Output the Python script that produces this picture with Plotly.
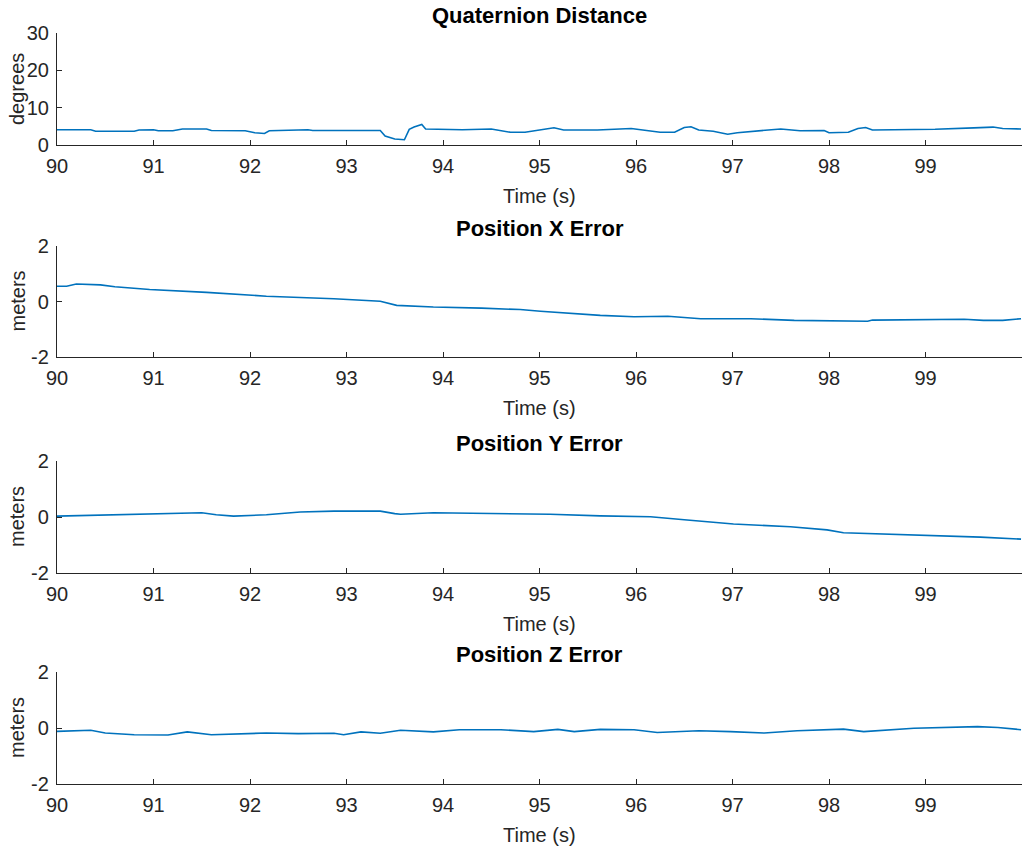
import plotly.graph_objects as go

# ---------------- data ----------------
quat_t = [90.0, 90.35, 90.4, 90.8, 90.85, 91.0, 91.05, 91.2, 91.3, 91.55, 91.6, 91.95,
          92.05, 92.15, 92.2, 92.5, 92.6, 92.65, 93.0, 93.35, 93.4, 93.5, 93.6, 93.65,
          93.7, 93.78, 93.82, 94.2, 94.5, 94.7, 94.85, 95.0, 95.15, 95.25, 95.6, 95.95,
          96.15, 96.25, 96.4, 96.5, 96.57, 96.65, 96.8, 96.95, 97.05, 97.2, 97.5, 97.7,
          97.95, 98.0, 98.2, 98.3, 98.38, 98.45, 98.7, 99.1, 99.5, 99.7, 99.8, 99.99]
quat_v = [4.1, 4.1, 3.7, 3.7, 4.0, 4.1, 3.8, 3.8, 4.3, 4.3, 3.9, 3.8,
          3.3, 3.1, 3.8, 4.1, 4.1, 3.9, 3.9, 3.9, 2.4, 1.6, 1.4, 4.2,
          4.8, 5.5, 4.3, 4.1, 4.3, 3.4, 3.4, 3.9, 4.6, 4.0, 4.0, 4.4,
          3.8, 3.4, 3.4, 4.7, 4.9, 4.0, 3.7, 2.9, 3.3, 3.7, 4.3, 3.8,
          3.9, 3.3, 3.4, 4.4, 4.7, 4.0, 4.1, 4.2, 4.6, 4.8, 4.4, 4.3]

posx_t = [90.0, 90.1, 90.2, 90.45, 90.6, 90.96, 91.55, 92.17, 92.87, 93.35, 93.52, 93.9,
          94.4, 94.8, 95.01, 95.63, 95.98, 96.33, 96.67, 97.19, 97.64, 98.05, 98.4, 98.45,
          99.02, 99.4, 99.6, 99.8, 99.99]
posx_v = [0.55, 0.55, 0.63, 0.6, 0.53, 0.43, 0.33, 0.19, 0.1, 0.01, -0.14, -0.2,
          -0.24, -0.29, -0.35, -0.5, -0.55, -0.53, -0.62, -0.62, -0.68, -0.69, -0.71, -0.67,
          -0.64, -0.64, -0.68, -0.68, -0.62]

posy_t = [90.0, 90.96, 91.5, 91.65, 91.83, 92.17, 92.52, 92.87, 93.35, 93.5, 93.56, 93.9,
          94.8, 95.11, 95.63, 96.15, 96.5, 97.01, 97.6, 97.98, 98.15, 98.74, 99.57, 99.99]
posy_v = [0.03, 0.1, 0.15, 0.08, 0.03, 0.08, 0.18, 0.21, 0.21, 0.12, 0.1, 0.15,
          0.11, 0.1, 0.04, 0.01, -0.1, -0.25, -0.35, -0.46, -0.56, -0.62, -0.72, -0.79]

posz_t = [90.0, 90.35, 90.5, 90.8, 91.15, 91.35, 91.6, 92.17, 92.5, 92.87, 92.97, 93.15,
          93.35, 93.56, 93.9, 94.17, 94.6, 94.94, 95.19, 95.36, 95.63, 95.98, 96.22, 96.65,
          96.98, 97.33, 97.67, 98.15, 98.36, 98.88, 99.54, 99.75, 99.99]
posz_v = [-0.12, -0.08, -0.18, -0.24, -0.25, -0.14, -0.24, -0.18, -0.2, -0.19, -0.24, -0.14,
          -0.19, -0.08, -0.14, -0.06, -0.06, -0.13, -0.05, -0.13, -0.05, -0.06, -0.16, -0.1,
          -0.13, -0.18, -0.1, -0.04, -0.13, -0.01, 0.05, 0.02, -0.06]

titles = ["Quaternion Distance", "Position X Error", "Position Y Error", "Position Z Error"]
ylabels = ["degrees", "meters", "meters", "meters"]
x_ticks = [90, 91, 92, 93, 94, 95, 96, 97, 98, 99]
y_ticks = [[0, 10, 20, 30], [-2, 0, 2], [-2, 0, 2], [-2, 0, 2]]
y_ticktext = [["0", "10", "20", "30"], ["-2", "0", "2"], ["-2", "0", "2"], ["-2", "0", "2"]]
y_ranges = [[0, 30], [-2, 2], [-2, 2], [-2, 2]]
x_range = [90, 100]

# ---------------- layout geometry (pixels) ----------------
W, H = 1024, 848
LEFT, RIGHT = 57, 1022
panels_px = [(33, 145), (246, 357), (461, 573), (672, 784)]  # (top, bottom)

FONT = "Liberation Sans, Arial, Helvetica, sans-serif"
TXT = "#262626"
LINE = "#0072BD"

series = [(quat_t, quat_v), (posx_t, posx_v), (posy_t, posy_v), (posz_t, posz_v)]

fig = go.Figure()
annotations = []
for i, ((t, v), (top, bot)) in enumerate(zip(series, panels_px)):
    n = "" if i == 0 else str(i + 1)
    fig.add_trace(go.Scatter(x=t, y=v, mode="lines",
                             line=dict(color=LINE, width=1.6),
                             xaxis="x" + n, yaxis="y" + n, showlegend=False,
                             hoverinfo="skip"))
    dom_y = [1 - bot / H, 1 - top / H]
    axis_common = dict(showline=True, linecolor=TXT, linewidth=1.2, ticks="inside",
                       ticklen=5, tickwidth=1.2, tickcolor=TXT, showgrid=False,
                       zeroline=False, mirror=False, automargin=False,
                       tickfont=dict(family=FONT, size=20, color=TXT))
    fig.update_layout(**{
        "xaxis" + n: dict(domain=[LEFT / W, RIGHT / W], range=x_range,
                          anchor="y" + n, tickvals=x_ticks, ticklabelstandoff=3,
                          **axis_common),
        "yaxis" + n: dict(domain=dom_y, range=y_ranges[i], anchor="x" + n,
                          tickvals=y_ticks[i], ticktext=y_ticktext[i],
                          ticklabelstandoff=3, **axis_common),
    })
    # panel title
    annotations.append(dict(text="<b>" + titles[i] + "</b>", x=(LEFT + RIGHT) / 2 / W,
                            y=1 - (top - 18) / H, xref="paper", yref="paper",
                            showarrow=False, xanchor="center", yanchor="middle",
                            font=dict(family=FONT, size=22, color="#000000")))
    # x-axis label
    annotations.append(dict(text="Time (s)", x=(LEFT + RIGHT) / 2 / W,
                            y=1 - (bot + 51) / H, xref="paper", yref="paper",
                            showarrow=False, xanchor="center", yanchor="middle",
                            font=dict(family=FONT, size=20, color=TXT)))
    # y-axis label
    annotations.append(dict(text=ylabels[i], x=17 / W, y=1 - (top + bot) / 2 / H,
                            xref="paper", yref="paper", showarrow=False,
                            xanchor="center", yanchor="middle", textangle=-90,
                            font=dict(family=FONT, size=20, color=TXT)))

fig.update_layout(width=W, height=H, margin=dict(l=0, r=0, t=0, b=0),
                  paper_bgcolor="white", plot_bgcolor="white",
                  annotations=annotations)

fig.write_html("out.html", config={"displayModeBar": False},
               post_script="document.body.style.margin='0';")
